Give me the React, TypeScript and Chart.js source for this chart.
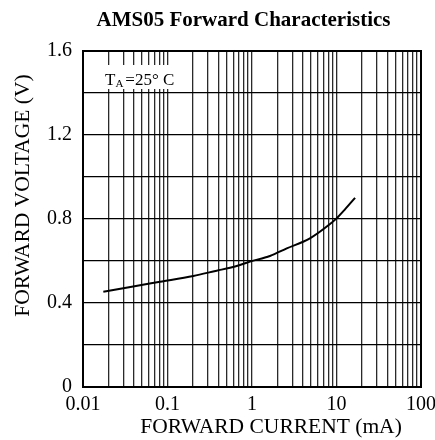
import { useEffect, useRef } from 'react';
import { Chart, registerables } from 'chart.js';

Chart.register(...registerables);

const chartTitle = 'AMS05 Forward Characteristics';
const xAxisTitle = 'FORWARD CURRENT (mA)';
const yAxisTitle = 'FORWARD VOLTAGE (V)';
const noteMain = 'T';
const noteSub = 'A';
const noteRest = '=25° C';

const currentMA = [0.0174, 0.035, 0.0815, 0.202, 0.382, 0.55, 0.72, 0.947, 1.63, 2.58, 4.85, 8.38, 10.0, 12.6, 16.6];
const voltageV = [0.454, 0.475, 0.501, 0.529, 0.554, 0.568, 0.581, 0.597, 0.624, 0.66, 0.708, 0.776, 0.803, 0.846, 0.901];

const xDecades = [0.01, 0.1, 1, 10, 100];
const xTickLabels = ['0.01', '0.1', '1', '10', '100'];
const xMinorSteps = [1, 2, 3, 4, 5, 6, 7, 8, 9];

const yTickValues = [0, 0.4, 0.8, 1.2, 1.6];
const yTickLabels = ['0', '0.4', '0.8', '1.2', '1.6'];
const yGridStep = 0.2;

const SERIF = "'Liberation Serif', 'Times New Roman', serif";

function xGridValues(): number[] {
  const out: number[] = [];
  for (let d = 0; d < xDecades.length - 1; d++) {
    for (const m of xMinorSteps) out.push(parseFloat((xDecades[d] * m).toPrecision(6)));
  }
  out.push(xDecades[xDecades.length - 1]);
  return out;
}

const textPlugin = {
  id: 'textPlugin',
  afterDraw(chart: any) {
    const { ctx, chartArea } = chart;
    const { left, right, top, bottom } = chartArea;
    ctx.save();
    // frame
    ctx.strokeStyle = '#000';
    ctx.lineWidth = 2;
    ctx.strokeRect(left, top, right - left, bottom - top);

    ctx.fillStyle = '#000';
    // title
    ctx.font = `bold 21px ${SERIF}`;
    ctx.textAlign = 'center';
    ctx.textBaseline = 'middle';
    ctx.fillText(chartTitle, 243.5, 21);

    // x axis title
    ctx.font = `21.5px ${SERIF}`;
    ctx.fillText(xAxisTitle, 271, 427);

    // y axis title
    ctx.save();
    ctx.translate(23, 195.5);
    ctx.rotate(-Math.PI / 2);
    ctx.fillText(yAxisTitle, 0, 0);
    ctx.restore();

    // annotation box
    const bx = left + 17;
    const by = top + 14;
    ctx.fillStyle = '#fff';
    ctx.fillRect(bx, by, 73, 24);
    ctx.fillStyle = '#000';
    ctx.textAlign = 'left';
    ctx.textBaseline = 'alphabetic';
    ctx.font = `17px ${SERIF}`;
    const tx = bx + 5;
    const base = by + 20;
    ctx.fillText(noteMain, tx, base);
    const tw = ctx.measureText(noteMain).width;
    ctx.font = `11px ${SERIF}`;
    ctx.fillText(noteSub, tx + tw, base + 2);
    const sw = ctx.measureText(noteSub).width;
    ctx.font = `17px ${SERIF}`;
    ctx.fillText(noteRest, tx + tw + sw + 2, base);
    ctx.restore();
  },
};

export default function App() {
  const ref = useRef<HTMLCanvasElement | null>(null);

  useEffect(() => {
    if (!ref.current) return;
    const gridVals = xGridValues();
    const chart = new Chart(ref.current, {
      type: 'line',
      data: {
        datasets: [
          {
            data: currentMA.map((x, i) => ({ x, y: voltageV[i] })),
            borderColor: '#000',
            borderWidth: 2,
            pointRadius: 0,
            cubicInterpolationMode: 'monotone',
            fill: false,
          },
        ],
      },
      options: {
        animation: false,
        responsive: false,
        layout: { padding: { top: 51, right: 14, bottom: 0, left: 0 } },
        plugins: {
          legend: { display: false },
          title: { display: false },
          tooltip: { enabled: false },
        },
        scales: {
          x: {
            type: 'logarithmic',
            min: xDecades[0],
            max: xDecades[xDecades.length - 1],
            afterBuildTicks: (scale: any) => {
              scale.ticks = gridVals.map((v) => ({ value: v }));
            },
            afterFit: (scale: any) => {
              scale.height = 53;
              scale.paddingRight = 0;
              scale.paddingLeft = 0;
            },
            ticks: {
              autoSkip: false,
              maxRotation: 0,
              padding: 6,
              color: '#000',
              font: { family: SERIF, size: 20 },
              callback: (value: any) => {
                const v = Number(value);
                const i = xDecades.findIndex((d) => Math.abs(d - v) / d < 1e-6);
                return i >= 0 ? xTickLabels[i] : '';
              },
            },
            grid: { color: '#2a2a2a', lineWidth: 1.3, drawTicks: false },
            border: { display: false },
          },
          y: {
            type: 'linear',
            min: yTickValues[0],
            max: yTickValues[yTickValues.length - 1],
            afterFit: (scale: any) => {
              scale.width = 83;
            },
            ticks: {
              stepSize: yGridStep,
              autoSkip: false,
              padding: 11,
              color: '#000',
              font: { family: SERIF, size: 20 },
              callback: (value: any) => {
                const v = Number(value);
                const i = yTickValues.findIndex((t) => Math.abs(t - v) < 1e-6);
                return i >= 0 ? yTickLabels[i] : '';
              },
            },
            grid: { color: '#000', lineWidth: 1.2, drawTicks: false },
            border: { display: false },
          },
        },
      },
      plugins: [textPlugin],
    });
    return () => chart.destroy();
  }, []);

  return (
    <div style={{ position: 'absolute', left: 0, top: 0, width: 435, height: 440, background: '#fff' }}>
      <canvas ref={ref} width={435} height={440} style={{ display: 'block' }} />
    </div>
  );
}
